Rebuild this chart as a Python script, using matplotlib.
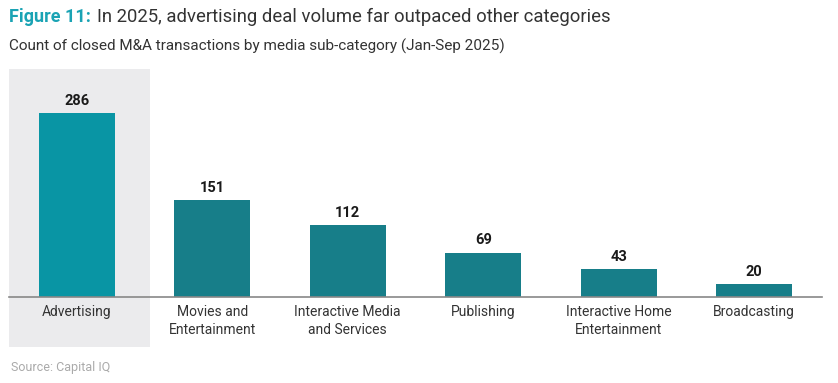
import matplotlib.pyplot as plt
from matplotlib.patches import Rectangle
import matplotlib.transforms as mtransforms

plt.rcParams['font.family'] = ['Roboto', 'DejaVu Sans']

categories = ['Advertising', 'Movies and\nEntertainment', 'Interactive Media\nand Services',
              'Publishing', 'Interactive Home\nEntertainment', 'Broadcasting']
deals = [286, 151, 112, 69, 43, 20]

highlight = '#0995A4'
base = '#177E89'
colors = [highlight] + [base] * (len(deals) - 1)

fig = plt.figure(figsize=(8.38, 3.83), dpi=100)
fig.patch.set_facecolor('white')
ax = fig.add_axes([9 / 838, 86 / 383, 813 / 838, 228 / 383])

x = list(range(len(categories)))

# grey highlight panel behind first category, running down past the labels
trans = mtransforms.blended_transform_factory(ax.transData, ax.transAxes)
ax.add_patch(Rectangle((-0.5, -0.22), 1.04, 1.22, transform=trans,
                       facecolor='#EBEBED', edgecolor='none', clip_on=False, zorder=0))

bars = ax.bar(x, deals, width=0.56, color=colors, zorder=2)
for xi, v in zip(x, deals):
    ax.text(xi, v + 8, str(v), ha='center', va='bottom', fontsize=10.5,
            fontweight='bold', color='#1a1a1a')

ax.set_xlim(-0.5, len(categories) - 0.5)
ax.set_ylim(0, 354)
ax.set_xticks(x)
ax.set_xticklabels(categories, fontsize=10, color='#333333', linespacing=1.35)
ax.tick_params(axis='x', length=0, pad=6)
ax.set_yticks([])
for s in ['top', 'right', 'left']:
    ax.spines[s].set_visible(False)
ax.spines['bottom'].set_color('#888888')
ax.spines['bottom'].set_linewidth(1.2)
ax.spines['bottom'].set_zorder(3)
ax.set_facecolor('none')

fig.text(9 / 838, 1 - 17 / 383, 'Figure 11:', fontsize=13, fontweight='bold',
         color='#1AA3B4', va='center')
fig.text(97 / 838, 1 - 17 / 383, 'In 2025, advertising deal volume far outpaced other categories',
         fontsize=13.3, color='#333333', va='center')
fig.text(9 / 838, 1 - 46 / 383, 'Count of closed M&A transactions by media sub-category (Jan-Sep 2025)',
         fontsize=11, color='#333333', va='center')
fig.text(11 / 838, 1 - 368 / 383, 'Source: Capital IQ', fontsize=9, color='#AAAAAA', va='center')

fig.savefig('out.png', dpi=100)
